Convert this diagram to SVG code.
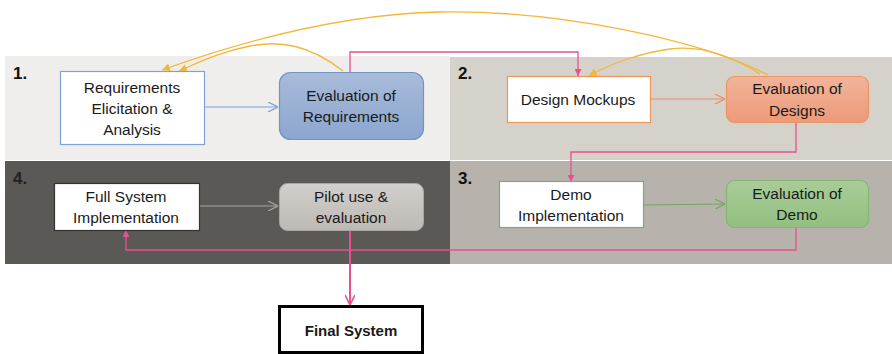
<svg xmlns="http://www.w3.org/2000/svg" width="892" height="354" viewBox="0 0 892 354">
<style>
text{font-family:"Liberation Sans",Arial,sans-serif;font-size:15.5px;fill:#1a1a1a;text-anchor:middle}
.num{font-size:17px;font-weight:bold;text-anchor:start;fill:#111}
.pink{fill:none;stroke:#e8508f;stroke-width:1.3}
.yel{fill:none;stroke:#f3b73a;stroke-width:1.3}
</style>
<defs>
<linearGradient id="gB" x1="0" y1="0" x2="0" y2="1"><stop offset="0" stop-color="#a8bbd9"/><stop offset="1" stop-color="#8ba6cf"/></linearGradient>
<linearGradient id="gO" x1="0" y1="0" x2="0" y2="1"><stop offset="0" stop-color="#f2b49a"/><stop offset="1" stop-color="#ec9a78"/></linearGradient>
<linearGradient id="gG" x1="0" y1="0" x2="0" y2="1"><stop offset="0" stop-color="#a9cc99"/><stop offset="1" stop-color="#92c07f"/></linearGradient>
<linearGradient id="gY" x1="0" y1="0" x2="0" y2="1"><stop offset="0" stop-color="#d2cfcc"/><stop offset="1" stop-color="#bdb9b5"/></linearGradient>
<marker id="aP" viewBox="0 0 10 10" refX="10" refY="5" markerWidth="7" markerHeight="7" orient="auto" markerUnits="userSpaceOnUse"><path d="M0,0L10,5L0,10z" fill="#e8508f"/></marker>
<marker id="aY" viewBox="0 0 10 10" refX="10" refY="5" markerWidth="8" markerHeight="8" orient="auto" markerUnits="userSpaceOnUse"><path d="M0,0L10,5L0,10z" fill="#f3b73a"/></marker>
<marker id="oB" viewBox="0 0 10 10" refX="10" refY="5" markerWidth="10" markerHeight="10" orient="auto" markerUnits="userSpaceOnUse"><path d="M0,0L10,5L0,10" fill="none" stroke="#7da2d6" stroke-width="1.2"/></marker>
<marker id="oO" viewBox="0 0 10 10" refX="10" refY="5" markerWidth="10" markerHeight="10" orient="auto" markerUnits="userSpaceOnUse"><path d="M0,0L10,5L0,10" fill="none" stroke="#e8906a" stroke-width="1.2"/></marker>
<marker id="oG" viewBox="0 0 10 10" refX="10" refY="5" markerWidth="10" markerHeight="10" orient="auto" markerUnits="userSpaceOnUse"><path d="M0,0L10,5L0,10" fill="none" stroke="#6fa85c" stroke-width="1.2"/></marker>
<marker id="oW" viewBox="0 0 10 10" refX="10" refY="5" markerWidth="10" markerHeight="10" orient="auto" markerUnits="userSpaceOnUse"><path d="M0,0L10,5L0,10" fill="none" stroke="#a8a5a2" stroke-width="1.2"/></marker>
<marker id="oP" viewBox="0 0 10 10" refX="10" refY="5" markerWidth="10" markerHeight="10" orient="auto" markerUnits="userSpaceOnUse"><path d="M0,0L10,5L0,10" fill="none" stroke="#e8508f" stroke-width="1.6"/></marker>
</defs>
<rect width="892" height="354" fill="#ffffff"/>
<g id="panels">
<rect x="5" y="56" width="445" height="104" fill="#f0eeec"/>
<rect x="450" y="57" width="442" height="103" fill="#d5d1cb"/>
<rect x="5" y="161" width="445" height="103" fill="#5b5955"/>
<rect x="450" y="161" width="442" height="103" fill="#b7b2ac"/>
<text class="num" x="13" y="79" fill="#111" style="fill:#111">1.</text>
<text class="num" x="458" y="79">2.</text>
<text class="num" x="13" y="184" style="fill:#222">4.</text>
<text class="num" x="458" y="184">3.</text>
</g>
<g id="connectors">
<path d="M204,107L278,107" fill="none" stroke="#7da2d6" stroke-width="1.2" marker-end="url(#oB)"/>
<path d="M650,99L725,99" fill="none" stroke="#e8906a" stroke-width="1.2" marker-end="url(#oO)"/>
<path d="M643,205L725,204" fill="none" stroke="#6fa85c" stroke-width="1.2" marker-end="url(#oG)"/>
<path d="M199,206L278,206" fill="none" stroke="#a8a5a2" stroke-width="1.2" marker-end="url(#oW)"/>
<path class="pink" d="M350,72V52H578V76" marker-end="url(#aP)"/>
<path class="pink" d="M796,123V152H571V182" marker-end="url(#aP)"/>
<path class="pink" d="M796,227V250H126V230" marker-end="url(#aP)"/>
<path d="M350,230V305" fill="none" stroke="#e8508f" stroke-width="2" marker-end="url(#oP)"/>
<path class="yel" d="M343,71C310,45 280,40 250,46C220,52 200,62 179,71" marker-end="url(#aY)"/>
<path class="yel" d="M768,75C700,40 560,10 440,12C340,14 240,42 162,70" marker-end="url(#aY)"/>
<path class="yel" d="M760,74C730,55 700,45 670,49C640,53 610,64 589,76" marker-end="url(#aY)"/>
</g>
<g id="n-req">
<rect x="60.5" y="71.5" width="144" height="73" fill="#fff" stroke="#7da2d6" stroke-width="1.2"/>
<text x="132" y="93">Requirements</text>
<text x="132" y="114">Elicitation &amp;</text>
<text x="132" y="135">Analysis</text>
</g>
<g id="n-evalreq">
<rect x="279.5" y="72.5" width="144" height="67" rx="11" fill="url(#gB)" stroke="#7194c5" stroke-width="1.2"/>
<text x="351" y="101">Evaluation of</text>
<text x="351" y="122">Requirements</text>
</g>
<g id="n-design">
<rect x="507.5" y="76.5" width="143" height="46" fill="#fff" stroke="#f0955a" stroke-width="1.2"/>
<text x="578" y="105">Design Mockups</text>
</g>
<g id="n-evaldes">
<rect x="726.5" y="76.5" width="142" height="46" rx="8" fill="url(#gO)" stroke="#eb9468" stroke-width="1.2"/>
<text x="797" y="94">Evaluation of</text>
<text x="797" y="116">Designs</text>
</g>
<g id="n-demo">
<rect x="499.5" y="181.5" width="144" height="46" fill="#fff" stroke="#7ab067" stroke-width="1.2"/>
<text x="571" y="200">Demo</text>
<text x="571" y="221">Implementation</text>
</g>
<g id="n-evaldemo">
<rect x="726.5" y="180.5" width="142" height="47" rx="8" fill="url(#gG)" stroke="#84b572" stroke-width="1.2"/>
<text x="797" y="199">Evaluation of</text>
<text x="797" y="220">Demo</text>
</g>
<g id="n-full">
<rect x="54.5" y="183.5" width="145" height="47" fill="#fff" stroke="#333" stroke-width="1.2"/>
<text x="126" y="202">Full System</text>
<text x="126" y="223">Implementation</text>
</g>
<g id="n-pilot">
<rect x="279.5" y="183.5" width="144" height="47" rx="8" fill="url(#gY)" stroke="#aaa6a2" stroke-width="1"/>
<text x="351" y="202">Pilot use &amp;</text>
<text x="351" y="223">evaluation</text>
</g>
<g id="n-final">
<rect x="279.5" y="306.5" width="143" height="46" fill="#fff" stroke="#000" stroke-width="3"/>
<text x="351" y="336" style="font-weight:bold;font-size:15px">Final System</text>
</g>
</svg>
